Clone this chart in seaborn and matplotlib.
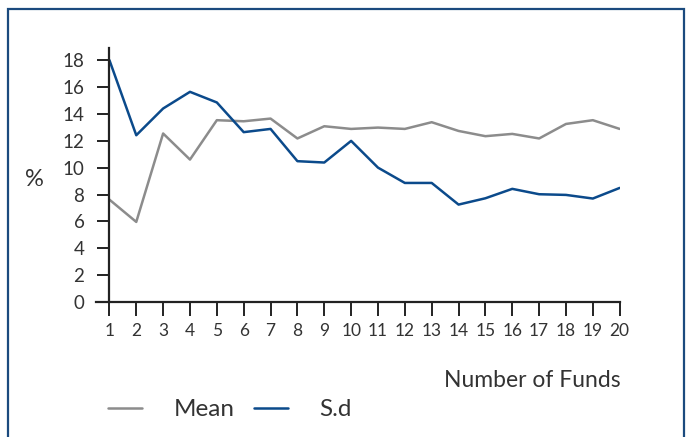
import pandas as pd
import numpy as np
import seaborn as sns
import matplotlib.pyplot as plt
from matplotlib.patches import Rectangle

# Data
funds = list(range(1, 21))
mean_vals = [7.62, 5.96, 12.54, 10.6, 13.53, 13.45, 13.65, 12.17, 13.08, 12.88,
             12.98, 12.88, 13.38, 12.73, 12.34, 12.51, 12.17, 13.25, 13.53, 12.88]
sd_vals = [18.0, 12.41, 14.4, 15.64, 14.85, 12.64, 12.88, 10.48, 10.38, 11.99,
           10.0, 8.86, 8.86, 7.25, 7.72, 8.42, 8.02, 7.97, 7.7, 8.49]
series = ['Mean', 'S.d']
y_ticks = list(range(0, 19, 2))

df = pd.DataFrame({
    'Funds': funds * 2,
    'Value': mean_vals + sd_vals,
    'Series': [series[0]] * len(funds) + [series[1]] * len(funds),
})

sns.set_style('white')
plt.rcParams['font.family'] = ['Lato', 'DejaVu Sans']

fig = plt.figure(figsize=(6.92, 4.37), dpi=100)
ax = fig.add_axes([0.1387, 0.3089, 0.7576, 0.5812])

palette = {'Mean': '#8c8c8c', 'S.d': '#0b4a8b'}
sns.lineplot(data=df, x='Funds', y='Value', hue='Series', palette=palette,
             linewidth=1.8, ax=ax, legend=False)

ax.set_xlim(0.5, 20.02)
ax.set_ylim(0, 18.9)
ax.set_xticks(funds)
ax.set_yticks(y_ticks)
ax.set_xlabel('')
ax.set_ylabel('')

for s in ['top', 'right']:
    ax.spines[s].set_visible(False)
ax.spines['left'].set_position(('data', 1))
for s in ['left', 'bottom']:
    ax.spines[s].set_color('#222222')
    ax.spines[s].set_linewidth(1.6)

ax.tick_params(axis='y', direction='out', length=9, width=1.4, color='#222222',
               labelsize=13.5, labelcolor='#333333', pad=9, left=True)
ax.tick_params(axis='x', direction='out', length=10, width=1.4, color='#222222',
               labelsize=12.5, labelcolor='#333333', pad=5, bottom=True)

fig.text(0.05, 0.59, '%', fontsize=17, color='#333333', ha='center', va='center')
fig.text(0.897, 0.13, 'Number of Funds', fontsize=16.5, color='#333333',
         ha='right', va='center')

handles = [plt.Line2D([], [], color=palette[s], linewidth=1.8) for s in series]
fig.legend(handles, series, loc='center left', bbox_to_anchor=(0.156, 0.062),
           ncol=2, frameon=False, fontsize=17.5, handlelength=1.4,
           handletextpad=1.3, columnspacing=0.8, labelcolor='#333333',
           borderpad=0, borderaxespad=0)

frame = Rectangle((0.011, -0.1), 0.977, 1.08, transform=fig.transFigure,
                  fill=False, edgecolor='#1b4a7e', linewidth=1.6, clip_on=False)
fig.patches.append(frame)

fig.savefig('out.png', dpi=100)
